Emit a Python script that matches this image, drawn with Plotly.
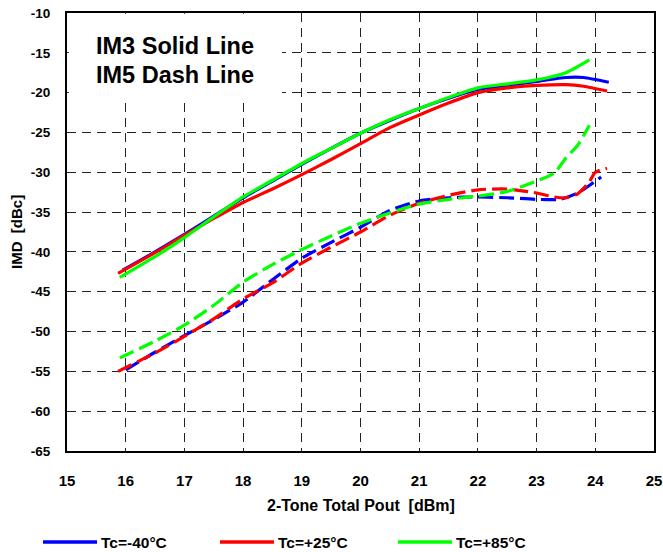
import plotly.graph_objects as go

# ---- data ----
im3_blue_x = [15.95, 16.5, 17.0, 17.5, 18.0, 18.5, 19.0, 19.5, 20.0, 20.5, 21.0, 21.5, 22.0, 22.5, 23.0, 23.5, 23.8, 24.23]
im3_blue_y = [-42.3, -40.0, -37.8, -35.5, -33.2, -31.1, -29.0, -27.0, -25.1, -23.5, -22.0, -20.7, -19.6, -19.1, -18.6, -18.1, -18.1, -18.7]

im3_red_x = [15.87, 16.5, 17.0, 17.5, 18.0, 18.5, 19.0, 19.5, 20.0, 20.5, 21.0, 21.5, 22.0, 22.5, 23.0, 23.5, 23.8, 24.2]
im3_red_y = [-42.7, -40.1, -37.9, -35.8, -33.8, -32.1, -30.3, -28.4, -26.4, -24.4, -22.8, -21.3, -20.0, -19.4, -19.1, -19.0, -19.2, -19.8]

im3_green_x = [15.9, 16.5, 17.0, 17.5, 18.0, 18.5, 19.0, 19.5, 20.0, 20.5, 21.0, 21.5, 22.0, 22.5, 23.0, 23.5, 23.9]
im3_green_y = [-43.2, -40.6, -38.2, -35.6, -33.1, -31.0, -28.9, -27.0, -25.1, -23.4, -22.0, -20.6, -19.4, -18.9, -18.4, -17.5, -15.9]

im5_blue_x = [16.0, 16.5, 17.0, 17.5, 18.0, 18.5, 19.0, 19.5, 20.0, 20.5, 21.0, 21.5, 22.0, 22.5, 23.0, 23.4, 23.7, 24.1]
im5_blue_y = [-54.8, -52.6, -50.5, -48.5, -46.3, -43.5, -40.8, -38.8, -36.9, -34.8, -33.6, -33.2, -33.1, -33.2, -33.4, -33.4, -32.6, -30.6]

im5_red_x = [15.87, 16.5, 17.0, 17.5, 18.0, 18.5, 19.0, 19.5, 20.0, 20.5, 21.0, 21.5, 22.0, 22.5, 23.0, 23.3, 23.5, 23.7, 23.9, 24.0, 24.2]
im5_red_y = [-55.0, -52.7, -50.6, -48.4, -45.9, -43.9, -41.4, -39.4, -37.5, -35.4, -33.9, -32.9, -32.2, -32.1, -32.6, -33.1, -33.2, -32.7, -31.2, -30.0, -29.5]

im5_green_x = [15.9, 16.5, 17.0, 17.5, 18.0, 18.5, 19.0, 19.5, 20.0, 20.5, 21.0, 21.5, 22.0, 22.5, 23.0, 23.3, 23.5, 23.7, 23.9]
im5_green_y = [-53.3, -51.2, -49.2, -46.7, -43.8, -41.6, -39.7, -38.0, -36.4, -35.1, -34.0, -33.4, -33.0, -32.4, -31.1, -30.1, -28.2, -26.6, -24.1]

series_names = ["Tc=-40°C", "Tc=+25°C", "Tc=+85°C"]
series_colors = ["#0000FF", "#FF0000", "#00FF00"]

x_ticks = list(range(15, 26))
y_ticks = list(range(-65, -9, 5))
y_ticktext = [str(v) for v in y_ticks]
x_ticktext = [str(v) for v in x_ticks]

FONT = "Liberation Sans, Arial, sans-serif"

# plot-area geometry in pixels (for the hand-drawn legend / text box)
W, H = 663, 552
ML, MR, MT, MB = 67, 9, 13, 101
PW, PH = W - ML - MR, H - MT - MB


def px_x(p):
    return (p - ML) / PW


def px_y(p):
    return (H - MB - p) / PH


fig = go.Figure()

im3 = [(im3_blue_x, im3_blue_y), (im3_red_x, im3_red_y), (im3_green_x, im3_green_y)]
im5 = [(im5_blue_x, im5_blue_y), (im5_red_x, im5_red_y), (im5_green_x, im5_green_y)]

for (xs, ys), name, col in zip(im5, series_names, series_colors):
    fig.add_trace(go.Scatter(x=xs, y=ys, mode="lines", name=name + " IM5", showlegend=False,
                             line=dict(color=col, width=3.2, dash="15px,6px", shape="spline", smoothing=0.6)))
for (xs, ys), name, col in zip(im3, series_names, series_colors):
    fig.add_trace(go.Scatter(x=xs, y=ys, mode="lines", name=name, showlegend=False,
                             line=dict(color=col, width=3.2, shape="spline", smoothing=0.6)))

# white box behind the text
fig.add_shape(type="rect", xref="x", yref="y", x0=15.03, x1=18.66, y0=-21.3, y1=-10.1,
              fillcolor="white", line=dict(width=0), layer="between")

fig.add_annotation(xref="paper", yref="paper", x=px_x(94), y=px_y(46), xanchor="left", yanchor="middle",
                   text="<b>IM3 Solid Line</b>", showarrow=False,
                   font=dict(family=FONT, size=23.5, color="black"))
fig.add_annotation(xref="paper", yref="paper", x=px_x(94), y=px_y(75), xanchor="left", yanchor="middle",
                   text="<b>IM5 Dash Line</b>", showarrow=False,
                   font=dict(family=FONT, size=23.5, color="black"))

# axis titles placed as in the reference
fig.add_annotation(xref="paper", yref="paper", x=0.5, y=px_y(505), xanchor="center", yanchor="middle",
                   text="<b>2-Tone Total Pout  [dBm]</b>", showarrow=False,
                   font=dict(family=FONT, size=16, color="black"))
fig.add_annotation(xref="paper", yref="paper", x=px_x(16), y=0.5, xanchor="center", yanchor="middle",
                   text="<b>IMD  [dBc]</b>", showarrow=False, textangle=-90,
                   font=dict(family=FONT, size=15, color="black"))

# legend (line sample + label), laid out as in the reference
legend_left_px = [43, 220, 398]
legend_y_px = 542
for left, name, col in zip(legend_left_px, series_names, series_colors):
    fig.add_shape(type="line", xref="paper", yref="paper",
                  x0=px_x(left), x1=px_x(left + 54), y0=px_y(legend_y_px), y1=px_y(legend_y_px),
                  line=dict(color=col, width=3.5))
    fig.add_annotation(xref="paper", yref="paper", x=px_x(left + 56), y=px_y(legend_y_px),
                       xanchor="left", yanchor="middle", showarrow=False,
                       text="<b>%s</b>" % name, font=dict(family=FONT, size=15.5, color="black"))

fig.update_layout(
    width=W, height=H,
    margin=dict(l=ML, r=MR, t=MT, b=MB, autoexpand=False),
    paper_bgcolor="white", plot_bgcolor="white",
    font=dict(family=FONT, color="black"),
    showlegend=False,
)

fig.update_xaxes(range=[15, 25], tickvals=x_ticks, ticktext=x_ticktext, automargin=False,
                 showgrid=True, gridcolor="#222222", gridwidth=1, griddash="9px,6px",
                 showline=True, linecolor="black", linewidth=2, mirror=True,
                 ticks="", ticklabelstandoff=15, zeroline=False,
                 tickfont=dict(family=FONT, size=15, color="black", weight="bold"))
fig.update_yaxes(range=[-65, -10], tickvals=y_ticks, ticktext=y_ticktext, automargin=False,
                 showgrid=True, gridcolor="#222222", gridwidth=1, griddash="9px,6px",
                 showline=True, linecolor="black", linewidth=2, mirror=True,
                 ticks="", ticklabelstandoff=12, zeroline=False,
                 tickfont=dict(family=FONT, size=13.5, color="black", weight="bold"))

fig.write_html("out.html")
